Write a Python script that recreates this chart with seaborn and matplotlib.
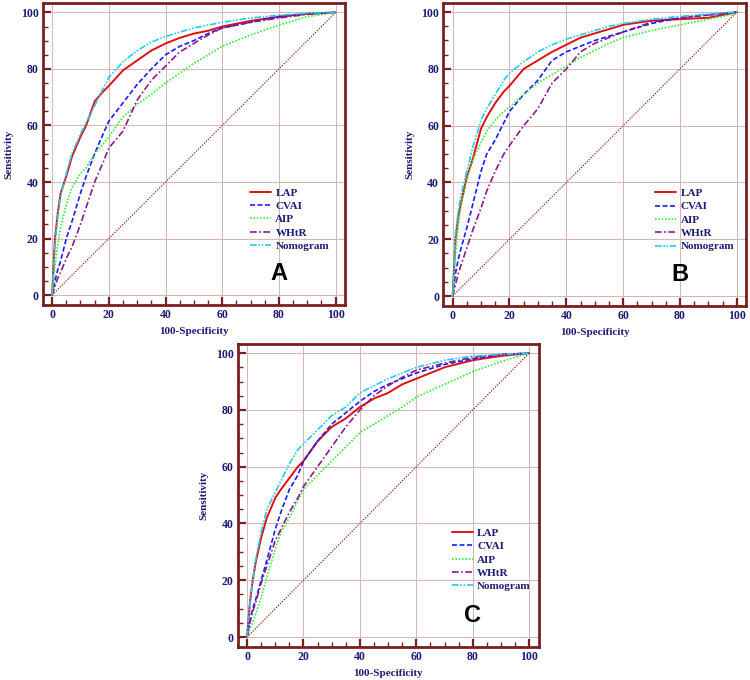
"""ROC curves of LAP, CVAI, AIP, WHtR and the nomogram in three cohorts."""

import matplotlib
matplotlib.use('Agg')
import matplotlib.pyplot as plt
from matplotlib.ticker import MultipleLocator
import seaborn as sns

# 100-Specificity grid shared by every curve
fpr = [0, 1, 2, 3, 5, 7, 10, 12, 15, 18, 20, 25, 30, 35, 40, 45, 50, 55,
       60, 70, 80, 90, 100]

# Panel A (sensitivity)
a_lap = [0, 20, 29, 36, 42, 49, 56, 60, 68.5, 72, 74, 79.5, 83, 86.5, 89,
         91, 92.5, 93.5, 95, 97, 98.5, 99.5, 100]
a_cvai = [0, 5, 9, 12, 20, 26, 36, 42, 50, 57, 61.5, 68, 74.5, 80, 85, 88,
          90, 92.5, 94.5, 96.5, 98.5, 99.5, 100]
a_aip = [0, 10, 18, 24, 32, 38, 43, 45, 50, 53.5, 56, 63, 67.5, 71, 75,
         78.5, 82, 85, 88, 92, 95.5, 98.5, 100]
a_whtr = [0, 3, 6, 8, 13, 17, 25, 31, 40, 47, 52, 58, 69, 76, 81, 86, 89,
          92, 94.5, 96.5, 98, 99.3, 100]
a_nomo = [0, 18, 28, 35, 43, 50, 57, 61, 67, 73, 77, 82.5, 86.5, 89.5, 91.5,
          93, 94.5, 95.5, 96.5, 98, 99, 99.7, 100]

# Panel B
b_lap = [0, 20, 28, 33, 42, 48, 59, 63, 68, 72, 74, 80, 83, 86, 88.5, 91,
         92.5, 94, 95.5, 97, 97.5, 98, 100]
b_cvai = [0, 8, 13, 17, 24, 32, 44, 50, 55, 61, 65, 71, 76, 83, 86, 88, 90,
          91.5, 93, 96, 98, 99, 100]
b_aip = [0, 15, 25, 32, 41, 48, 54, 58, 62, 65, 66.5, 71, 75, 78, 81, 84,
         86.5, 89, 91, 93.5, 95.5, 97.5, 99.5]
b_whtr = [0, 4, 8, 11, 17, 23, 31, 37, 44, 50, 53, 60, 66, 75, 80, 86, 89,
          91, 93, 96.5, 98, 99, 100]
b_nomo = [0, 22, 30, 36, 44, 52, 62, 66, 71, 76, 78.5, 82.5, 86, 88.5, 90.5,
          92, 93.5, 95, 96, 97.5, 98.5, 99.3, 100]

# Panel C
c_lap = [0, 12, 20, 26, 35, 42, 49, 52, 56, 60, 62, 69, 74, 77, 81, 84, 86,
         89, 91, 95, 97.5, 99, 100]
c_cvai = [0, 6, 10, 13, 20, 27, 38, 44, 52, 57, 62, 69, 75, 79, 83, 86.5,
          89, 91, 93, 96, 98, 99.5, 100]
c_aip = [0, 3, 5, 8, 14, 21, 31, 37, 42, 48, 52, 57, 62, 67, 72, 75, 78,
         81, 84.5, 89, 93.5, 97, 100]
c_whtr = [0, 5, 9, 12, 19, 25, 34, 38, 44, 49, 53, 60, 67, 74, 80, 85,
          88.5, 91.5, 94, 96.5, 98.5, 99.5, 100]
c_nomo = [0, 12, 20, 27, 37, 45, 51, 55, 61, 66, 68, 73, 78, 81, 86, 88.5,
          91, 93, 95, 97.5, 99, 99.5, 100]

names = ['LAP', 'CVAI', 'AIP', 'WHtR', 'Nomogram']
colors = ['#e01010', '#1a1aff', '#33ee33', '#8a1a8a', '#22ccee']
dashes = [None, (3, 1.5), (1, 1), (4, 1.5, 1, 1.5), (4, 1, 1, 1, 1, 1)]

# letter, curves, axes rect, legend anchor
panels = [
    ('A', [a_lap, a_cvai, a_aip, a_whtr, a_nomo], [0.057, 0.5515, 0.403, 0.444], (0.685, 0.388)),
    ('B', [b_lap, b_cvai, b_aip, b_whtr, b_nomo], [0.591, 0.550, 0.404, 0.446], (0.700, 0.388)),
    ('C', [c_lap, c_cvai, c_aip, c_whtr, c_nomo], [0.317, 0.0485, 0.401, 0.446], (0.711, 0.392)),
]

sns.set_style('white')
navy = '#1c1c78'
frame = '#7a1f1f'
serif = ['Liberation Serif', 'DejaVu Serif']

fig = plt.figure(figsize=(7.5, 6.8), dpi=100)

for letter, curves, rect, anchor in panels:
    ax = fig.add_axes(rect)
    ax.set_xlim(-3.3, 103.3)
    ax.set_ylim(-3.5, 103.3)

    # chance line
    sns.lineplot(x=fpr, y=fpr, ax=ax, color='#a02020', lw=0.9,
                 linestyle=(0, (1, 1.2)), sort=False)

    for name, sens, col, dsh in zip(names, curves, colors, dashes):
        line = sns.lineplot(x=fpr, y=sens, ax=ax, color=col, label=name,
                            lw=1.4 if dsh is None else 1.2, sort=False).lines[-1]
        if dsh is not None:
            line.set_dashes(dsh)

    ax.xaxis.set_major_locator(MultipleLocator(20))
    ax.yaxis.set_major_locator(MultipleLocator(20))
    ax.xaxis.set_minor_locator(MultipleLocator(5))
    ax.yaxis.set_minor_locator(MultipleLocator(5))
    ax.grid(True, which='major', color='#d8b4b4', lw=0.7)
    ax.tick_params(which='major', direction='in', length=6, width=1.6,
                   color=frame, pad=3, labelsize=8.5, labelcolor=navy,
                   left=True, bottom=True)
    ax.tick_params(which='minor', direction='in', length=3.5, width=1.0,
                   color=frame, left=True, bottom=True)
    for lab in ax.get_xticklabels() + ax.get_yticklabels():
        lab.set_family(serif)
        lab.set_fontweight('bold')
    for sp in ax.spines.values():
        sp.set_color(frame)
        sp.set_linewidth(2)

    ax.set_xlabel('100-Specificity', fontsize=8, fontweight='bold',
                  family=serif, color=navy, labelpad=4)
    ax.set_ylabel('Sensitivity', fontsize=8, fontweight='bold',
                  family=serif, color=navy, labelpad=5)

    leg = ax.legend(loc='upper left', bbox_to_anchor=anchor,
                    frameon=False, handlelength=1.9, handletextpad=0.4,
                    labelspacing=0.32, borderaxespad=0, borderpad=0,
                    prop={'family': serif, 'weight': 'bold', 'size': 8})
    for txt in leg.get_texts():
        txt.set_color(navy)

    ax.text(80, 7.5, letter, ha='center', va='center', fontsize=17,
            fontweight='bold', family=['Liberation Sans', 'DejaVu Sans'],
            color='black')

fig.savefig('out.png', dpi=100)
